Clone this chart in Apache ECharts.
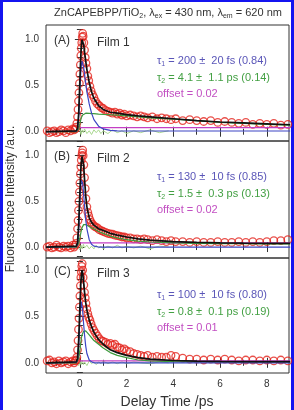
<!DOCTYPE html>
<html>
<head>
<meta charset="utf-8">
<script src="https://cdn.jsdelivr.net/npm/echarts@6/dist/echarts.min.js"></script>
<style>
  html, body { margin: 0; padding: 0; background: #fff; }
  #chart { width: 294px; height: 410px; }
</style>
</head>
<body>
<div id="chart"></div>
<script>
// time axis of the measured points (ps)
const tData = [-1.4, -1.3, -1.2, -1.1, -1.0, -0.9, -0.8, -0.7, -0.6, -0.5, -0.4, -0.3, -0.25, -0.2,
  -0.16, -0.13, -0.1, -0.08, -0.06, -0.04, -0.02, 0, 0.02, 0.04, 0.06, 0.08, 0.1, 0.12, 0.14, 0.17,
  0.2, 0.23, 0.26, 0.3, 0.34, 0.38, 0.43, 0.48, 0.54, 0.6, 0.67, 0.75, 0.83, 0.92, 1.0, 1.1, 1.2,
  1.3, 1.4, 1.5, 1.6, 1.7, 1.8, 1.9, 2.0, 2.15, 2.3, 2.45, 2.6, 2.75, 2.9, 3.1, 3.3, 3.5, 3.7, 3.9,
  4.1, 4.4, 4.7, 5.0, 5.3, 5.6, 5.9, 6.2, 6.5, 6.8, 7.1, 7.4, 7.7, 8.0, 8.3, 8.6, 8.9]

const dataA = [0.01, -0.01, 0.0, 0.01, -0.01, 0.0, 0.02, 0.01, -0.01, 0.02, 0.01, 0.03, 0.02, 0.03,
  0.05, 0.09, 0.16, 0.24, 0.33, 0.42, 0.52, 0.62, 0.72, 0.82, 0.9, 0.96, 1.02, 1.06, 1.03, 0.96,
  0.88, 0.8, 0.74, 0.68, 0.6, 0.55, 0.49, 0.44, 0.4, 0.37, 0.33, 0.3, 0.28, 0.26, 0.25, 0.23, 0.22,
  0.21, 0.2, 0.21, 0.19, 0.2, 0.18, 0.19, 0.17, 0.18, 0.17, 0.16, 0.17, 0.16, 0.15, 0.16, 0.14, 0.15, 0.14, 0.13,
  0.14, 0.12, 0.13, 0.12, 0.11, 0.12, 0.10, 0.11, 0.10, 0.09, 0.10, 0.08, 0.09, 0.08, 0.09, 0.07, 0.08]

const dataB = [0.0, 0.01, -0.01, 0.0, 0.02, 0.0, -0.01, 0.01, 0.0, 0.01, -0.01, 0.02, 0.0, 0.02,
  0.04, 0.1, 0.2, 0.29, 0.4, 0.5, 0.6, 0.7, 0.8, 0.88, 0.95, 1.0, 1.03, 1.06, 1.0, 0.9,
  0.76, 0.64, 0.53, 0.44, 0.38, 0.34, 0.3, 0.27, 0.25, 0.23, 0.22, 0.21, 0.19, 0.18, 0.17, 0.16, 0.15,
  0.145, 0.14, 0.13, 0.125, 0.12, 0.11, 0.11, 0.1, 0.1, 0.09, 0.09, 0.08, 0.09, 0.08, 0.07, 0.08, 0.07, 0.06, 0.07,
  0.06, 0.06, 0.05, 0.06, 0.05, 0.05, 0.06, 0.05, 0.05, 0.06, 0.05, 0.06, 0.05, 0.06, 0.07, 0.07, 0.08]

const dataC = [0.02, 0.03, 0.0, 0.01, -0.01, 0.02, 0.0, 0.01, 0.02, -0.01, 0.01, 0.02, 0.0, 0.02,
  0.03, 0.06, 0.14, 0.24, 0.36, 0.48, 0.6, 0.72, 0.83, 0.92, 0.98, 1.04, 1.07, 1.0, 0.92, 0.84,
  0.76, 0.7, 0.64, 0.58, 0.53, 0.49, 0.46, 0.42, 0.38, 0.35, 0.32, 0.29, 0.26, 0.24, 0.23, 0.22, 0.2,
  0.21, 0.19, 0.2, 0.17, 0.16, 0.14, 0.15, 0.13, 0.12, 0.1, 0.09, 0.08, 0.07, 0.08, 0.06, 0.07, 0.06, 0.06, 0.08,
  0.07, 0.05, 0.04, 0.04, 0.03, 0.04, 0.03, 0.04, 0.03, 0.02, 0.03, 0.03, 0.02, 0.03, 0.02, 0.03, 0.02]

// time axis of the fitted curves
const tFit = [-1.45, -0.15, -0.1, -0.05, 0, 0.03, 0.06, 0.09, 0.12, 0.16, 0.2, 0.25, 0.3, 0.4, 0.5,
  0.6, 0.8, 1.0, 1.3, 1.6, 2.0, 2.5, 3, 4, 5, 6, 7, 8, 9]

const fitA = [0, 0.01, 0.04, 0.2, 0.55, 0.76, 0.92, 0.99, 1.0, 0.94, 0.86, 0.76, 0.67, 0.53, 0.43,
  0.36, 0.28, 0.24, 0.21, 0.2, 0.185, 0.17, 0.16, 0.14, 0.12, 0.105, 0.095, 0.085, 0.075]
const fastA = [0, 0.005, 0.03, 0.16, 0.45, 0.6, 0.71, 0.76, 0.75, 0.7, 0.62, 0.52, 0.43, 0.3, 0.2,
  0.13, 0.06, 0.03, 0.015, 0.01, 0.008, 0.008, 0.008, 0.008, 0.008, 0.008, 0.008, 0.008, 0.008]
const slowA = [0, 0, 0, 0.03, 0.09, 0.12, 0.15, 0.17, 0.18, 0.19, 0.2, 0.2, 0.2, 0.198, 0.196,
  0.194, 0.19, 0.187, 0.183, 0.178, 0.17, 0.16, 0.15, 0.135, 0.12, 0.1, 0.09, 0.08, 0.07]

const fitB = [0, 0.01, 0.05, 0.25, 0.6, 0.8, 0.93, 0.99, 1.0, 0.9, 0.74, 0.56, 0.44, 0.32, 0.27,
  0.24, 0.2, 0.18, 0.15, 0.13, 0.11, 0.09, 0.075, 0.06, 0.05, 0.045, 0.042, 0.04, 0.04]
const fastB = [0, 0.005, 0.03, 0.18, 0.5, 0.65, 0.73, 0.74, 0.7, 0.58, 0.45, 0.3, 0.2, 0.08, 0.03,
  0.01, 0, 0, 0, 0, 0, 0, 0, 0, 0, 0, 0, 0, 0]
const slowB = [0, 0, 0, 0.04, 0.1, 0.14, 0.18, 0.21, 0.23, 0.245, 0.25, 0.245, 0.24, 0.225, 0.21,
  0.2, 0.17, 0.15, 0.12, 0.1, 0.08, 0.065, 0.055, 0.045, 0.04, 0.038, 0.036, 0.035, 0.035]

const fitC = [0, 0.01, 0.05, 0.25, 0.6, 0.8, 0.94, 1.0, 0.97, 0.87, 0.76, 0.65, 0.57, 0.46, 0.39,
  0.33, 0.25, 0.2, 0.14, 0.11, 0.08, 0.055, 0.04, 0.025, 0.018, 0.015, 0.013, 0.012, 0.012]
const fastC = [0, 0.005, 0.03, 0.18, 0.48, 0.6, 0.66, 0.64, 0.56, 0.42, 0.3, 0.18, 0.1, 0.03, 0.01,
  0, 0, 0, 0, 0, 0, 0, 0, 0, 0, 0, 0, 0, 0]
const slowC = [0, 0, 0, 0.05, 0.14, 0.2, 0.26, 0.3, 0.32, 0.34, 0.35, 0.345, 0.33, 0.3, 0.27,
  0.24, 0.2, 0.16, 0.11, 0.08, 0.055, 0.03, 0.02, 0.012, 0.01, 0.01, 0.01, 0.01, 0.01]

// constant offset level, drawn from t = 0 on
const tOffset = [0, 9]
const offsetA = [0.045, 0.045]
const offsetB = [0.045, 0.045]
const offsetC = [0.02, 0.02]

// residuals of the fits
const tRes = [-0.1, -0.05, 0, 0.05, 0.1, 0.15, 0.2, 0.3, 0.4, 0.5, 0.6, 0.7, 0.8, 0.9, 1.0, 1.2,
  1.4, 1.6, 1.8, 2.0, 2.3, 2.6, 3.0, 3.4, 3.8]
const resA = [0, -0.02, 0.03, -0.03, 0.02, -0.01, 0.03, -0.02, 0.01, -0.03, 0.02, -0.01, 0.02, -0.02,
  0.01, -0.02, 0.02, -0.01, 0.01, -0.02, 0.01, -0.01, 0.02, -0.01, 0.01]
const resB = [0, 0.02, -0.03, 0.02, -0.02, 0.03, -0.01, 0.02, -0.02, 0.01, -0.02, 0.02, -0.01, 0.01,
  -0.02, 0.01, -0.01, 0.02, -0.01, 0.01, -0.01, 0.01, -0.02, 0.01, 0]
const resC = [0, -0.03, 0.02, -0.02, 0.03, -0.02, 0.01, -0.03, 0.02, -0.01, 0.01, -0.02, 0.01, -0.01,
  0.02, -0.01, 0.01, -0.01, 0.01, -0.01, 0.01, 0, -0.01, 0.01, 0]

// tick labels
const xMajor = [0, 2, 4, 6, 8]
const xMinor = [-1, 1, 3, 5, 7]
const yMajor = [0, 0.5, 1.0]
const yMinor = [-0.1, 0.1, 0.2, 0.3, 0.4, 0.6, 0.7, 0.8, 0.9, 1.1]

const panels = [
  { top: 25, height: 116, ymin: -0.1, ymax: 1.15, data: dataA, fit: fitA, fast: fastA, slow: slowA, off: offsetA, res: resA },
  { top: 141, height: 117, ymin: -0.12, ymax: 1.16, data: dataB, fit: fitB, fast: fastB, slow: slowB, off: offsetB, res: resB },
  { top: 258, height: 115, ymin: -0.11, ymax: 1.13, data: dataC, fit: fitC, fast: fastC, slow: slowC, off: offsetC, res: resC }
]

const zip = (xs, ys) => xs.map((x, i) => [x, ys[i]])
const ink = '#333'
const font = 'Liberation Sans'

const grid = [], xAxis = [], yAxis = [], series = []
panels.forEach((p, i) => {
  grid.push({ left: 46, right: 5, top: p.top, height: p.height, show: true,
    borderColor: ink, borderWidth: 1, backgroundColor: 'transparent' })

  // x axes: bottom major / minor, top major / minor (only ticks on top)
  ;[['bottom', xMajor, 5], ['bottom', xMinor, 3], ['top', xMajor, 5], ['top', xMinor, 3]].forEach((a, k) => {
    xAxis.push({
      type: 'value', gridIndex: i, position: a[0], min: -1.45, max: 8.95,
      axisLine: { show: false }, splitLine: { show: false },
      axisTick: { inside: true, length: a[2], customValues: a[1], lineStyle: { color: ink } },
      axisLabel: { show: i === 2 && k === 0, customValues: xMajor, margin: 6,
        fontSize: 10, color: ink, fontFamily: font }
    })
  })
  ;[['left', yMajor, 5], ['left', yMinor, 3], ['right', yMajor, 5], ['right', yMinor, 3]].forEach((a, k) => {
    yAxis.push({
      type: 'value', gridIndex: i, position: a[0], min: p.ymin, max: p.ymax,
      axisLine: { show: false }, splitLine: { show: false },
      axisTick: { inside: true, length: a[2], customValues: a[1], lineStyle: { color: ink } },
      axisLabel: { show: k === 0, customValues: yMajor, margin: 7, fontSize: 10, color: ink,
        fontFamily: font, formatter: v => v.toFixed(1) }
    })
  })

  const ax = { xAxisIndex: i * 4, yAxisIndex: i * 4 }
  series.push(Object.assign({ type: 'line', data: zip(tRes, p.res), showSymbol: false,
    lineStyle: { color: '#a9d88f', width: 1 }, z: 1 }, ax))
  series.push(Object.assign({ type: 'scatter', data: zip(tData, p.data), symbol: 'circle', symbolSize: 7.5,
    itemStyle: { color: 'transparent', borderColor: '#e3261e', borderWidth: 1.3 }, z: 2 }, ax))
  series.push(Object.assign({ type: 'line', data: zip(tOffset, p.off), showSymbol: false,
    lineStyle: { color: '#c43fc4', width: 1.2 }, z: 3 }, ax))
  series.push(Object.assign({ type: 'line', data: zip(tFit, p.slow), showSymbol: false,
    lineStyle: { color: '#3d9a3d', width: 1.2 }, z: 3 }, ax))
  series.push(Object.assign({ type: 'line', data: zip(tFit, p.fast), showSymbol: false,
    lineStyle: { color: '#3d45c4', width: 1.2 }, z: 4 }, ax))
  series.push(Object.assign({ type: 'line', data: zip(tFit, p.fit), showSymbol: false,
    lineStyle: { color: '#111', width: 1.7 }, z: 5 }, ax))
})

// annotation texts
const panelLabels = [['(A)', 'Film 1', 41], ['(B)', 'Film 2', 157], ['(C)', 'Film 3', 272]]
const tauLines = [
  [['1', ' = 200 \u00b1  20 fs (0.84)'], ['2', ' = 4.1 \u00b1  1.1 ps (0.14)'], 'offset = 0.02', 61],
  [['1', ' = 130 \u00b1  10 fs (0.85)'], ['2', ' = 1.5 \u00b1  0.3 ps (0.13)'], 'offset = 0.02', 177],
  [['1', ' = 100 \u00b1  10 fs (0.80)'], ['2', ' = 0.8 \u00b1  0.1 ps (0.19)'], 'offset = 0.01', 295]
]
const colT1 = '#5a56b8', colT2 = '#43a043', colOff = '#c24fc2'

const graphic = [
  // blue frame
  { type: 'rect', shape: { x: 0, y: 0, width: 3, height: 410 }, style: { fill: '#1414f0' } },
  { type: 'rect', shape: { x: 0, y: 0, width: 294, height: 2 }, style: { fill: '#1414f0' } },
  { type: 'rect', shape: { x: 291, y: 0, width: 3, height: 410 }, style: { fill: '#1414f0' } },
  { type: 'text', x: 168, y: 13, style: {
    text: 'ZnCAPEBPP/TiO{s|2}, \u03bb{s|ex} = 430 nm, \u03bb{s|em} = 620 nm',
    fill: ink, font: '11px ' + font, align: 'center', verticalAlign: 'middle',
    rich: { s: { fontSize: 7, padding: [7, 0, 0, 0], fill: ink, fontFamily: font } } } },
  { type: 'text', x: 11, y: 199, rotation: Math.PI / 2, style: {
    text: 'Fluorescence Intensity /a.u.', fill: ink, font: '12px ' + font,
    align: 'center', verticalAlign: 'middle' } },
  { type: 'text', x: 167, y: 402, style: {
    text: 'Delay Time /ps', fill: ink, font: '14px ' + font, align: 'center', verticalAlign: 'middle' } }
]
panelLabels.forEach(l => {
  graphic.push({ type: 'text', x: 54, y: l[2], style: { text: l[0], fill: ink, font: '12px ' + font, verticalAlign: 'middle' } })
  graphic.push({ type: 'text', x: 97, y: l[2] + 2, style: { text: l[1], fill: ink, font: '12px ' + font, verticalAlign: 'middle' } })
})
tauLines.forEach(t => {
  const sub = c => ({ fontSize: 7, padding: [6, 0, 0, 0], fill: c, fontFamily: font })
  graphic.push({ type: 'text', x: 157, y: t[3], style: {
    text: '\u03c4{s|' + t[0][0] + '}' + t[0][1], fill: colT1, font: '11px ' + font,
    verticalAlign: 'middle', rich: { s: sub(colT1) } } })
  graphic.push({ type: 'text', x: 157, y: t[3] + 17, style: {
    text: '\u03c4{s|' + t[1][0] + '}' + t[1][1], fill: colT2, font: '11px ' + font,
    verticalAlign: 'middle', rich: { s: sub(colT2) } } })
  graphic.push({ type: 'text', x: 157, y: t[3] + 33, style: {
    text: t[2], fill: colOff, font: '11px ' + font, verticalAlign: 'middle' } })
})

const myChart = echarts.init(document.getElementById('chart'), null, { renderer: 'canvas' })
myChart.setOption({ animation: false, grid, xAxis, yAxis, series, graphic })
</script>
</body>
</html>
